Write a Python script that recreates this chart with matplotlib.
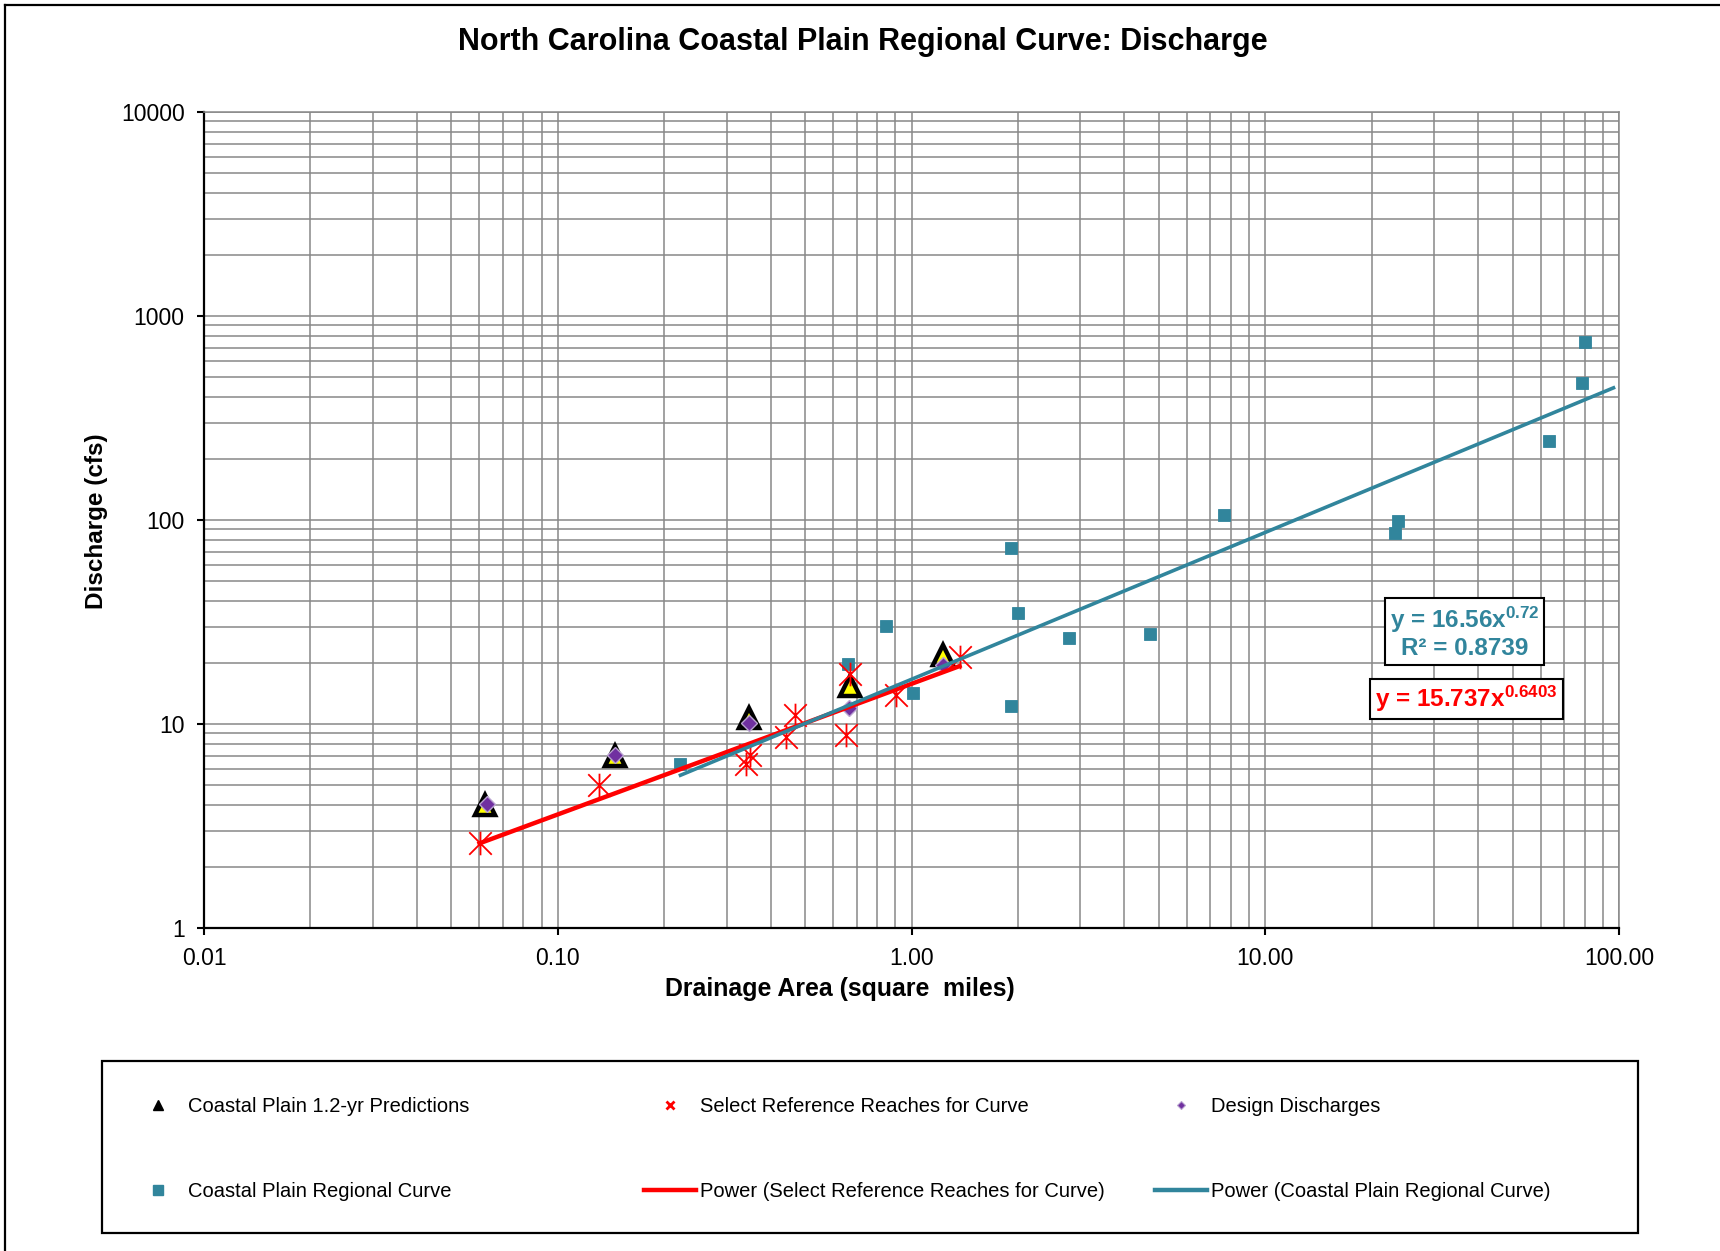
import matplotlib
matplotlib.use('Agg')
import matplotlib.pyplot as plt
from matplotlib.path import Path
from matplotlib.lines import Line2D
from matplotlib.patches import Rectangle
from matplotlib.ticker import FixedLocator, FixedFormatter, LogLocator, NullFormatter
import numpy as np

plt.rcParams['font.family'] = ['Liberation Sans', 'DejaVu Sans']
plt.rcParams['mathtext.fontset'] = 'custom'
plt.rcParams['mathtext.rm'] = 'Liberation Sans'
plt.rcParams['mathtext.bf'] = 'Liberation Sans:bold'
plt.rcParams['mathtext.default'] = 'bf'

# ---------------- data ----------------
title = "North Carolina Coastal Plain Regional Curve: Discharge"
x_label = "Drainage Area (square  miles)"
y_label = "Discharge (cfs)"

x_ticks = [0.01, 0.1, 1, 10, 100]
x_tick_labels = ["0.01", "0.10", "1.00", "10.00", "100.00"]
y_ticks = [1, 10, 100, 1000, 10000]
y_tick_labels = ["1", "10", "100", "1000", "10000"]

pred_area = [0.0623, 0.145, 0.347, 0.669, 1.23]
pred_q = [4.0, 7.0, 10.7, 15.4, 21.8]

ref_area = [0.0601, 0.1305, 0.341, 0.349, 0.441, 0.469, 0.655, 0.672, 0.902, 1.367]
ref_q = [2.62, 5.0, 6.38, 7.07, 8.6, 11.1, 8.8, 17.6, 13.9, 21.2]

design_area = [0.063, 0.145, 0.347, 0.667, 1.23]
design_q = [4.05, 7.05, 10.15, 11.94, 19.5]

coastal_area = [0.2223, 0.663, 0.846, 1.008, 1.907, 2.005, 1.907, 2.79, 4.73,
                7.66, 23.2, 23.8, 63.5, 78.4, 80.4]
coastal_q = [6.35, 19.6, 30.1, 14.2, 72.5, 35.0, 12.2, 26.5, 27.6,
             106, 86, 99.3, 244, 472, 745]

ref_coef, ref_exp = 15.737, 0.6403
coastal_coef, coastal_exp, coastal_r2 = 16.56, 0.72, 0.8739
coastal_forward_factor = 1.2   # trendline forecast forward

legend_labels = ["Coastal Plain 1.2-yr Predictions",
                 "Coastal Plain Regional Curve",
                 "Select Reference Reaches for Curve",
                 "Power (Select Reference Reaches for Curve)",
                 "Design Discharges",
                 "Power (Coastal Plain Regional Curve)"]

# ---------------- style ----------------
TEAL = '#31859C'
RED = '#FF0000'
PURPLE = '#7030A0'
GRID = '#888888'

W, H = 1720, 1251
fig = plt.figure(figsize=(W / 100, H / 100), dpi=100)
fig.patch.set_facecolor('white')

def fx(px):
    return px / W

def fy(py):
    return 1 - py / H

ax = fig.add_axes([fx(204), fy(928), fx(1619) - fx(204), fy(112) - fy(928)])
ax.set_xscale('log')
ax.set_yscale('log')
ax.set_xlim(0.01, 100)
ax.set_ylim(1, 10000)

ax.xaxis.set_major_locator(FixedLocator(x_ticks))
ax.xaxis.set_major_formatter(FixedFormatter(x_tick_labels))
ax.yaxis.set_major_locator(FixedLocator(y_ticks))
ax.yaxis.set_major_formatter(FixedFormatter(y_tick_labels))
ax.xaxis.set_minor_locator(LogLocator(base=10, subs=np.arange(2, 10)))
ax.yaxis.set_minor_locator(LogLocator(base=10, subs=np.arange(2, 10)))
ax.xaxis.set_minor_formatter(NullFormatter())
ax.yaxis.set_minor_formatter(NullFormatter())

ax.grid(True, which='both', color=GRID, linewidth=1.1, zorder=0)
ax.set_axisbelow(True)
ax.tick_params(which='major', direction='out', length=5, width=1.5, color='black',
               labelsize=16.5, pad=9)
ax.tick_params(which='minor', length=0)
for s in ['left', 'bottom']:
    ax.spines[s].set_color('black')
    ax.spines[s].set_linewidth(1.6)
for s in ['top', 'right']:
    ax.spines[s].set_color(GRID)
    ax.spines[s].set_linewidth(1.1)

# custom asterisk marker (X with vertical bar)
star_path = Path([(-1, -1), (1, 1), (-1, 1), (1, -1), (0, -1.05), (0, 1.05)],
                 [Path.MOVETO, Path.LINETO, Path.MOVETO, Path.LINETO, Path.MOVETO, Path.LINETO])

ax.plot(coastal_area, coastal_q, linestyle='none', marker='s', ms=9.3,
        mfc=TEAL, mec=TEAL, mew=0.6, zorder=3)
ax.plot(pred_area, pred_q, linestyle='none', marker='^', ms=14,
        mfc='#FFFF00', mec='black', mew=3.2, zorder=4)
ax.plot(design_area, design_q, linestyle='none', marker='D', ms=7.8,
        mfc=PURPLE, mec='#B9A3D0', mew=1.0, zorder=5)
ax.plot(ref_area, ref_q, linestyle='none', marker=star_path, ms=17,
        mfc='none', mec=RED, mew=1.3, zorder=6)

xr = np.geomspace(min(ref_area), max(ref_area), 200)
ax.plot(xr, ref_coef * xr ** ref_exp, color=RED, lw=3.2, zorder=7)
xc = np.geomspace(min(coastal_area), max(coastal_area) * coastal_forward_factor, 200)
ax.plot(xc, coastal_coef * xc ** coastal_exp, color=TEAL, lw=2.6, zorder=8)

# equations
fig.text(fx(1464.5), fy(632.5),
         "y = %.2fx$^{%.2f}$\nR² = %.4f" % (coastal_coef, coastal_exp, coastal_r2),
         color=TEAL, fontsize=17.5, fontweight='bold', ha='center', va='center',
         multialignment='center', linespacing=1.1,
         bbox=dict(boxstyle='square,pad=0.2', fc='white', ec='black', lw=1.5))
fig.text(fx(1466.5), fy(699),
         "y = %.3fx$^{%.4f}$" % (ref_coef, ref_exp),
         color=RED, fontsize=17.5, fontweight='bold', ha='center', va='center',
         bbox=dict(boxstyle='square,pad=0.2', fc='white', ec='black', lw=1.5))

# titles
fig.text(fx(863), fy(42), title, fontsize=22, fontweight='bold', ha='center', va='center')
fig.text(fx(840), fy(989), x_label, fontsize=17.9, fontweight='bold', ha='center', va='center')
fig.text(fx(96.5), fy(521), y_label, fontsize=17.5, fontweight='bold', ha='center',
         va='center', rotation=90)

# legend frame
fig.add_artist(Rectangle((fx(102), fy(1233)), fx(1638) - fx(102), fy(1061) - fy(1233),
                         transform=fig.transFigure, fill=False, ec='black', lw=1.6))

h_pred = Line2D([], [], linestyle='none', marker='^', ms=7, mfc='black', mec='black')
h_coastal = Line2D([], [], linestyle='none', marker='s', ms=6.5, mfc=TEAL, mec=TEAL)
h_ref = Line2D([], [], linestyle='none', marker='x', ms=6, mec=RED, mew=2)
h_refline = Line2D([], [], color=RED, lw=3.2)
h_design = Line2D([], [], linestyle='none', marker='D', ms=3.8, mfc=PURPLE, mec='#B9A3D0', mew=0.8)
h_coastline = Line2D([], [], color=TEAL, lw=3.2)
handles = [h_pred, h_coastal, h_ref, h_refline, h_design, h_coastline]

col_x = [132, 644, 1155]
for i, cx in enumerate(col_x):
    leg = fig.legend(handles=handles[2 * i:2 * i + 2], labels=legend_labels[2 * i:2 * i + 2],
                     loc='center left', bbox_to_anchor=(fx(cx), fy(1149)),
                     frameon=False, fontsize=14.5, handlelength=2.6, handletextpad=0.2,
                     labelspacing=3.3, borderpad=0, borderaxespad=0, numpoints=1)

# outer frame (top and left edges)
fig.add_artist(Line2D([fx(5), 1], [fy(5), fy(5)], transform=fig.transFigure, color='black', lw=1.6))
fig.add_artist(Line2D([fx(5), fx(5)], [fy(5), 0], transform=fig.transFigure, color='black', lw=1.6))

fig.savefig('out.png', dpi=100, facecolor='white')
